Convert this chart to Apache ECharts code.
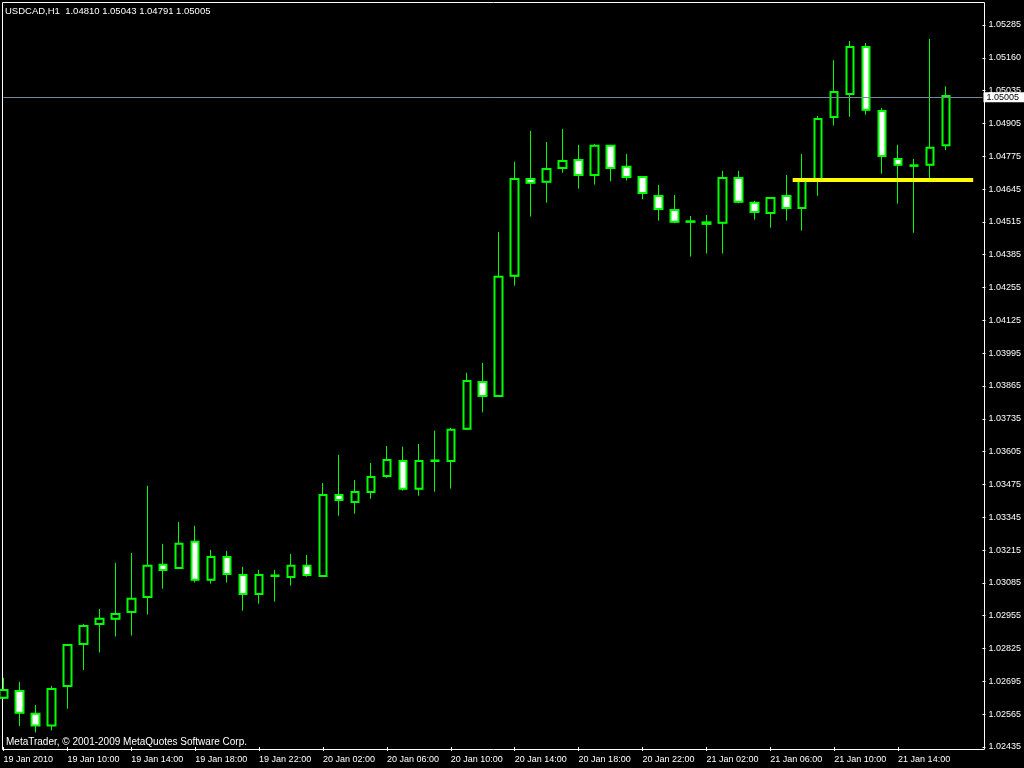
<!DOCTYPE html>
<html>
<head>
<meta charset="utf-8">
<title>USDCAD,H1</title>
<script src="https://cdn.jsdelivr.net/npm/echarts@6/dist/echarts.min.js"></script>
<style>
html, body { margin: 0; padding: 0; background: #000; }
#chart { width: 1024px; height: 768px; }
</style>
</head>
<body>
<div id="chart"></div>
<script>
const symbol = 'USDCAD,H1'

// hourly bars, 19 Jan 2010 06:00 .. 21 Jan 2010 17:00
const opens = [1.02629, 1.02656, 1.02566, 1.02520, 1.02676, 1.02842, 1.02921, 1.02941, 1.02968, 1.03027,
  1.03154, 1.03142, 1.03245, 1.03095, 1.03185, 1.03114, 1.03039, 1.03112, 1.03106, 1.03150,
  1.03110, 1.03430, 1.03402, 1.03442, 1.03505, 1.03564, 1.03454, 1.03566, 1.03564, 1.03691,
  1.03876, 1.03821, 1.04295, 1.04677, 1.04666, 1.04721, 1.04752, 1.04693, 1.04808, 1.04725,
  1.04685, 1.04610, 1.04555, 1.04510, 1.04506, 1.04504, 1.04681, 1.04583, 1.04543, 1.04610,
  1.04563, 1.04673, 1.04922, 1.05013, 1.05198, 1.04946, 1.04756, 1.04731, 1.04733, 1.04810]
const highs = [1.02708, 1.02692, 1.02601, 1.02676, 1.02842, 1.02921, 1.02980, 1.03162, 1.03201, 1.03466,
  1.03237, 1.03323, 1.03308, 1.03213, 1.03209, 1.03146, 1.03134, 1.03134, 1.03197, 1.03193,
  1.03477, 1.03588, 1.03489, 1.03556, 1.03623, 1.03620, 1.03631, 1.03683, 1.03695, 1.03912,
  1.03951, 1.04468, 1.04745, 1.04867, 1.04823, 1.04875, 1.04812, 1.04815, 1.04812, 1.04776,
  1.04689, 1.04654, 1.04614, 1.04531, 1.04535, 1.04709, 1.04709, 1.04591, 1.04606, 1.04693,
  1.04776, 1.04926, 1.05146, 1.05222, 1.05214, 1.04958, 1.04812, 1.04756, 1.05230, 1.05043]
const lows = [1.02625, 1.02518, 1.02492, 1.02501, 1.02586, 1.02739, 1.02808, 1.02871, 1.02875, 1.02958,
  1.03060, 1.03138, 1.03084, 1.03080, 1.03084, 1.02973, 1.03001, 1.03009, 1.03072, 1.03107,
  1.03106, 1.03348, 1.03356, 1.03415, 1.03498, 1.03447, 1.03427, 1.03443, 1.03455, 1.03687,
  1.03756, 1.03817, 1.04256, 1.04529, 1.04584, 1.04702, 1.04639, 1.04655, 1.04668, 1.04671,
  1.04597, 1.04513, 1.04503, 1.04371, 1.04383, 1.04383, 1.04581, 1.04517, 1.04485, 1.04513,
  1.04473, 1.04611, 1.04888, 1.04923, 1.04931, 1.04698, 1.04580, 1.04465, 1.04679, 1.04791]
const closes = [1.02660, 1.02570, 1.02520, 1.02664, 1.02838, 1.02913, 1.02941, 1.02960, 1.03020, 1.03150,
  1.03134, 1.03237, 1.03095, 1.03185, 1.03118, 1.03039, 1.03114, 1.03110, 1.03150, 1.03114,
  1.03430, 1.03410, 1.03442, 1.03501, 1.03568, 1.03454, 1.03564, 1.03564, 1.03687, 1.03880,
  1.03821, 1.04291, 1.04677, 1.04662, 1.04717, 1.04748, 1.04693, 1.04808, 1.04721, 1.04685,
  1.04622, 1.04559, 1.04508, 1.04508, 1.04500, 1.04681, 1.04587, 1.04547, 1.04602, 1.04563,
  1.04673, 1.04914, 1.05021, 1.05198, 1.04950, 1.04768, 1.04733, 1.04729, 1.04800, 1.05005]

// one label every 4 bars
const timeLabels = ['19 Jan 2010', '19 Jan 10:00', '19 Jan 14:00', '19 Jan 18:00', '19 Jan 22:00',
  '20 Jan 02:00', '20 Jan 06:00', '20 Jan 10:00', '20 Jan 14:00', '20 Jan 18:00', '20 Jan 22:00',
  '21 Jan 02:00', '21 Jan 06:00', '21 Jan 10:00', '21 Jan 14:00']
const barsPerLabel = 4

// price scale labels, bottom to top
const priceLabels = ['1.02435', '1.02565', '1.02695', '1.02825', '1.02955', '1.03085', '1.03215',
  '1.03345', '1.03475', '1.03605', '1.03735', '1.03865', '1.03995', '1.04125', '1.04255', '1.04385',
  '1.04515', '1.04645', '1.04775', '1.04905', '1.05035', '1.05160', '1.05285']
const priceMin = 1.02435
const priceMax = 1.05285

// yellow horizontal line object (bar index range)
const hLinePrice = 1.04673
const hLineFrom = 49.4
const hLineTo = 60.7

const last = opens.length - 1
const candles = opens.map((o, i) => [i, o, closes[i], lows[i], highs[i]])
// bodies only, drawn with a thicker outline on top of the wicks
const bodies = opens.map((o, i) => [i, o, closes[i], Math.min(o, closes[i]), Math.max(o, closes[i])])
const timeTicks = timeLabels.map((_, k) => k * barsPerLabel)

const font = 'Liberation Sans, Arial, sans-serif'
const chart = echarts.init(document.getElementById('chart'))

const option = {
  backgroundColor: '#000',
  animation: false,
  textStyle: { fontFamily: font },
  title: {
    text: symbol + '  ' + [opens[last], highs[last], lows[last], closes[last]].map(v => v.toFixed(5)).join(' '),
    left: 5,
    top: 6,
    padding: 0,
    textStyle: { color: '#fff', fontSize: 9.5, fontWeight: 'normal', fontFamily: font }
  },
  grid: { left: 3.5, right: 40, top: 25, bottom: 21 },
  xAxis: {
    type: 'value',
    min: 0,
    max: 61.28125,
    offset: 2,
    axisLine: { show: false },
    axisTick: { show: true, length: 4, lineStyle: { color: '#fff' }, customValues: timeTicks },
    axisLabel: {
      color: '#fff',
      fontSize: 9,
      align: 'left',
      margin: 6,
      customValues: timeTicks,
      formatter: v => timeLabels[Math.round(v / barsPerLabel)] || ''
    },
    splitLine: { show: false }
  },
  yAxis: [
    {
      type: 'value',
      position: 'right',
      min: priceMin,
      max: priceMax,
      axisLine: { show: false },
      axisTick: { show: false },
      axisLabel: { show: false },
      splitLine: { show: false }
    },
    {
      type: 'value',
      position: 'right',
      min: 0,
      max: priceLabels.length - 1,
      interval: 1,
      axisLine: { show: false },
      axisTick: { show: true, length: 3, lineStyle: { color: '#fff' } },
      axisLabel: {
        color: '#fff',
        fontSize: 9,
        margin: 6,
        formatter: v => priceLabels[v] || ''
      },
      splitLine: { show: false }
    }
  ],
  graphic: [
    {
      type: 'rect',
      silent: true,
      shape: { x: 2.5, y: 2.5, width: 982, height: 747 },
      style: { fill: null, stroke: '#fff', lineWidth: 1 }
    },
    {
      type: 'text',
      silent: true,
      left: 6,
      top: 737,
      style: { text: 'MetaTrader, © 2001-2009 MetaQuotes Software Corp.', fill: '#fff', font: '10px ' + font }
    }
  ],
  series: [
    {
      name: 'wick',
      type: 'candlestick',
      data: candles,
      barWidth: 8,
      clip: true,
      silent: true,
      itemStyle: {
        color: '#000',
        color0: '#fff',
        borderColor: '#00ff00',
        borderColor0: '#00ff00',
        borderWidth: 1
      },
      markLine: {
        silent: true,
        symbol: 'none',
        animation: false,
        data: [
          [
            { coord: [hLineFrom, hLinePrice] },
            { coord: [hLineTo, hLinePrice] }
          ]
        ],
        lineStyle: { color: '#ffff00', width: 4, type: 'solid' },
        label: { show: false }
      }
    },
    {
      name: 'body',
      type: 'candlestick',
      data: bodies,
      barWidth: 8,
      clip: true,
      silent: true,
      z: 3,
      itemStyle: {
        color: '#000',
        color0: '#fff',
        borderColor: '#00ff00',
        borderColor0: '#00ff00',
        borderWidth: 2
      },
      markLine: {
        silent: true,
        symbol: 'none',
        animation: false,
        data: [{ yAxis: closes[last] }],
        lineStyle: { color: '#778899', width: 1, type: 'solid' },
        label: {
          show: true,
          position: 'end',
          distance: 1,
          formatter: () => closes[last].toFixed(5),
          color: '#000',
          backgroundColor: '#fff',
          padding: [1, 5, 0, 3],
          fontSize: 9,
          fontFamily: font
        }
      }
    }
  ]
}

chart.setOption(option)
</script>
</body>
</html>
